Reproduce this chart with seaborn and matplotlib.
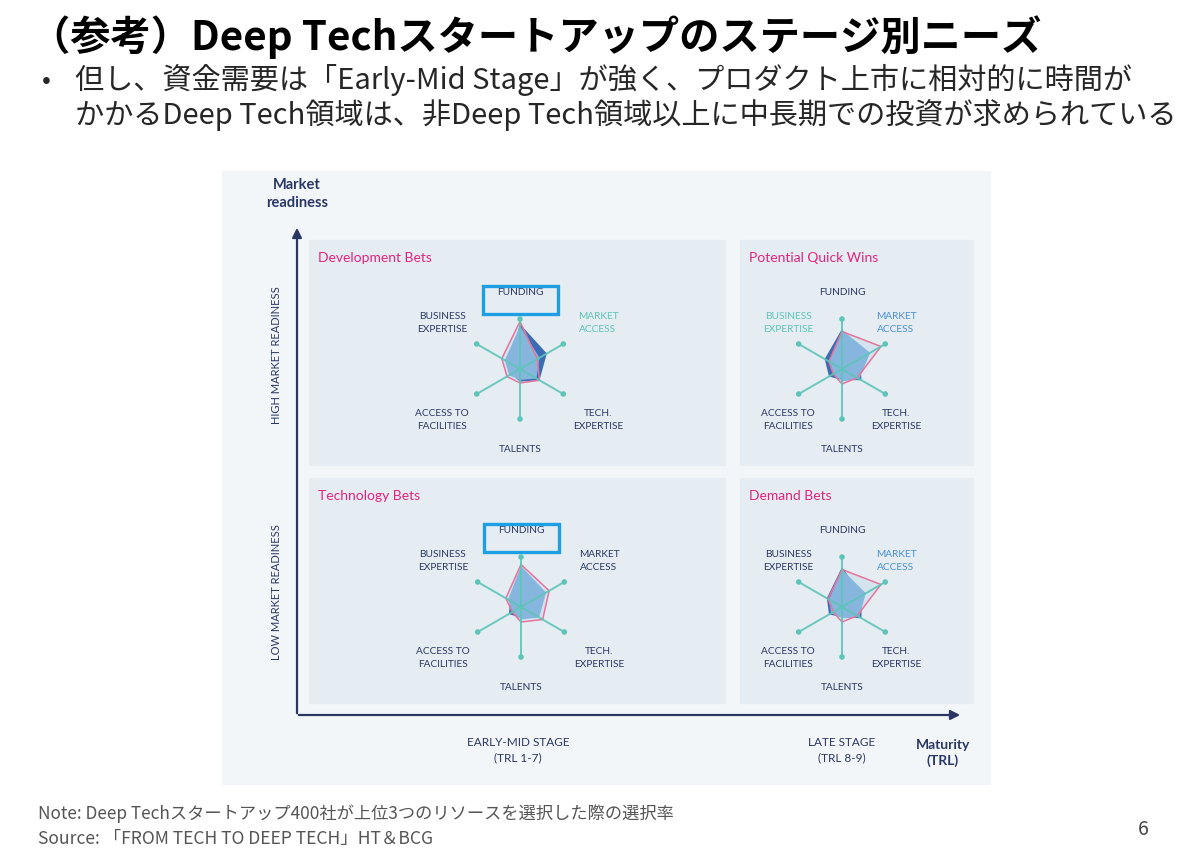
import numpy as np
import matplotlib
matplotlib.use("Agg")
import matplotlib.pyplot as plt
from matplotlib.patches import Rectangle
import seaborn as sns

# radar spokes, clockwise from the top
axis_labels = ["FUNDING", "MARKET\nACCESS", "TECH.\nEXPERTISE", "TALENTS",
               "ACCESS TO\nFACILITIES", "BUSINESS\nEXPERTISE"]

# values as a share of spoke length
dev_dark = [0.90, 0.62, 0.45, 0.25, 0.20, 0.25]
dev_light = [0.86, 0.45, 0.38, 0.22, 0.25, 0.35]
dev_pink = [0.95, 0.40, 0.45, 0.28, 0.30, 0.42]

qw_dark = [0.80, 0.42, 0.45, 0.22, 0.30, 0.40]
qw_light = [0.78, 0.65, 0.40, 0.25, 0.20, 0.30]
qw_pink = [0.75, 0.90, 0.35, 0.30, 0.20, 0.30]

tech_dark = [0.78, 0.50, 0.38, 0.22, 0.28, 0.25]
tech_light = [0.82, 0.58, 0.42, 0.25, 0.20, 0.30]
tech_pink = [0.85, 0.65, 0.50, 0.30, 0.20, 0.35]

dem_dark = [0.80, 0.45, 0.45, 0.20, 0.30, 0.35]
dem_light = [0.75, 0.55, 0.40, 0.22, 0.25, 0.30]
dem_pink = [0.75, 0.90, 0.35, 0.30, 0.20, 0.32]

panel_titles = ["Development Bets", "Potential Quick Wins", "Technology Bets", "Demand Bets"]

NAVY = "#2b3763"
TEAL = "#5ec4b8"
BLUE_TXT = "#4b8fd3"
DARK = "#3b6cb3"
LIGHT = "#86b6de"
PALE = "#d3e4ee"
PINK = "#e8739c"
MAGENTA = "#e3237f"

sns.set_theme(style="white")
plt.rcParams["font.family"] = ["Noto Sans CJK JP", "DejaVu Sans"]

fig = plt.figure(figsize=(12, 8.62), dpi=100)
bg = fig.add_axes([0, 0, 1, 1])
bg.set_xlim(0, 1200)
bg.set_ylim(862, 0)
bg.axis("off")

# slide text
bg.text(30, 37, "（参考）Deep Techスタートアップのステージ別ニーズ", fontsize=29,
        fontweight="bold", color="black", va="center", ha="left")
bg.text(42, 80, "•", fontsize=19, va="center", ha="left")
bg.text(75, 80, "但し、資金需要は「Early-Mid Stage」が強く、プロダクト上市に相対的に時間が",
        fontsize=21, va="center", ha="left")
bg.text(75, 115, "かかるDeep Tech領域は、非Deep Tech領域以上に中長期での投資が求められている",
        fontsize=21, va="center", ha="left")
bg.text(38, 814, "Note: Deep Techスタートアップ400社が上位3つのリソースを選択した際の選択率",
        fontsize=12.4, color="#555555", va="center")
bg.text(38, 839, "Source: 「FROM TECH TO DEEP TECH」HT＆BCG",
        fontsize=12.6, color="#555555", va="center")
bg.text(1143, 830, "6", fontsize=14, color="#444444", va="center", ha="center")

# chart image background and quadrant panels
bg.add_patch(Rectangle((222, 172), 768, 613, color="#f3f6f9", zorder=0))
panel_boxes = [(309, 241, 416, 225), (740, 241, 233, 225),
               (309, 479, 416, 225), (740, 479, 233, 225)]
for (x, y, w, h), title in zip(panel_boxes, panel_titles):
    bg.add_patch(Rectangle((x, y), w, h, color="#e5edf3", zorder=1))
    bg.text(x + 9, y + 17, title, fontsize=10, color=MAGENTA, family="Lato",
            va="center", ha="left")

# axes arrows
bg.annotate("", xy=(297, 226), xytext=(297, 717),
            arrowprops=dict(arrowstyle="-|>", color=NAVY, lw=1.6, mutation_scale=14))
bg.annotate("", xy=(963, 716), xytext=(296, 716),
            arrowprops=dict(arrowstyle="-|>", color=NAVY, lw=1.6, mutation_scale=14))
bg.text(297, 194, "Market\nreadiness", fontsize=10.5, fontweight="bold", color=NAVY,
        family="Lato", ha="center", va="center", linespacing=1.3)
bg.text(276, 355, "HIGH MARKET READINESS", fontsize=8, color=NAVY, family="Lato",
        rotation=90, ha="center", va="center")
bg.text(276, 592, "LOW MARKET READINESS", fontsize=8, color=NAVY, family="Lato",
        rotation=90, ha="center", va="center")
bg.text(518, 750, "EARLY-MID STAGE\n(TRL 1-7)", fontsize=8.5, color=NAVY, family="Lato",
        ha="center", va="center", linespacing=1.5)
bg.text(842, 750, "LATE STAGE\n(TRL 8-9)", fontsize=8.5, color=NAVY, family="Lato",
        ha="center", va="center", linespacing=1.5)
bg.text(943, 753, "Maturity\n(TRL)", fontsize=10, fontweight="bold", color=NAVY,
        family="Lato", ha="center", va="center", linespacing=1.4)

panels = [
    dict(c=(520, 370), dx=78, data=(dev_dark, dev_light, dev_pink),
         colors={1: TEAL}, box=True),
    dict(c=(842, 370), dx=54, data=(qw_dark, qw_light, qw_pink),
         colors={1: BLUE_TXT, 5: TEAL}, box=False),
    dict(c=(521, 608), dx=78, data=(tech_dark, tech_light, tech_pink),
         colors={}, box=True),
    dict(c=(842, 608), dx=54, data=(dem_dark, dem_light, dem_pink),
         colors={1: BLUE_TXT}, box=False),
]

theta = np.arange(6) * 2 * np.pi / 6
theta_c = np.append(theta, theta[0] + 2 * np.pi)
R = 55  # px radius of polar axes, spoke = 1/1.1 of that

for p in panels:
    cx, cy = p["c"]
    ax = fig.add_axes([(cx - R) / 1200, 1 - (cy + R) / 862, 2 * R / 1200, 2 * R / 862],
                      projection="polar")
    ax.set_theta_offset(np.pi / 2)
    ax.set_theta_direction(-1)
    ax.set_ylim(0, 1.1)
    ax.axis("off")
    dark, light, pink = p["data"]
    pink_c = np.append(pink, pink[0])
    ax.fill(theta_c, pink_c, color=PALE, zorder=1, lw=0)
    ax.fill(theta_c, np.append(dark, dark[0]), color=DARK, zorder=2, lw=0)
    ax.fill(theta_c, np.append(light, light[0]), color=LIGHT, zorder=3, lw=0)
    sns.lineplot(x=theta_c, y=pink_c, sort=False, ax=ax, color=PINK, lw=1.1, zorder=4)
    for t in theta:
        ax.plot([t, t], [0, 1], color=TEAL, lw=1.4, zorder=5, alpha=0.9)
    sns.scatterplot(x=theta, y=np.ones(6), ax=ax, color=TEAL, s=16,
                    edgecolor="none", zorder=6)
    ax.set_xlabel("")
    ax.set_ylabel("")

    dx = p["dx"]
    offsets = [(0, -77), (dx, -47), (dx, 50), (0, 80), (-dx, 50), (-dx, -47)]
    for i, (lab, (ox, oy)) in enumerate(zip(axis_labels, offsets)):
        bg.text(cx + ox, cy + oy, lab, fontsize=7.3, color=p["colors"].get(i, NAVY),
                family="Lato", ha="center", va="center", linespacing=1.5, zorder=3)
    if p["box"]:
        bg.add_patch(Rectangle((cx - 37, cy - 83), 75, 28, fill=False,
                               edgecolor="#1c9fe3", lw=2.4, zorder=3))

fig.savefig("out.png", dpi=100)
